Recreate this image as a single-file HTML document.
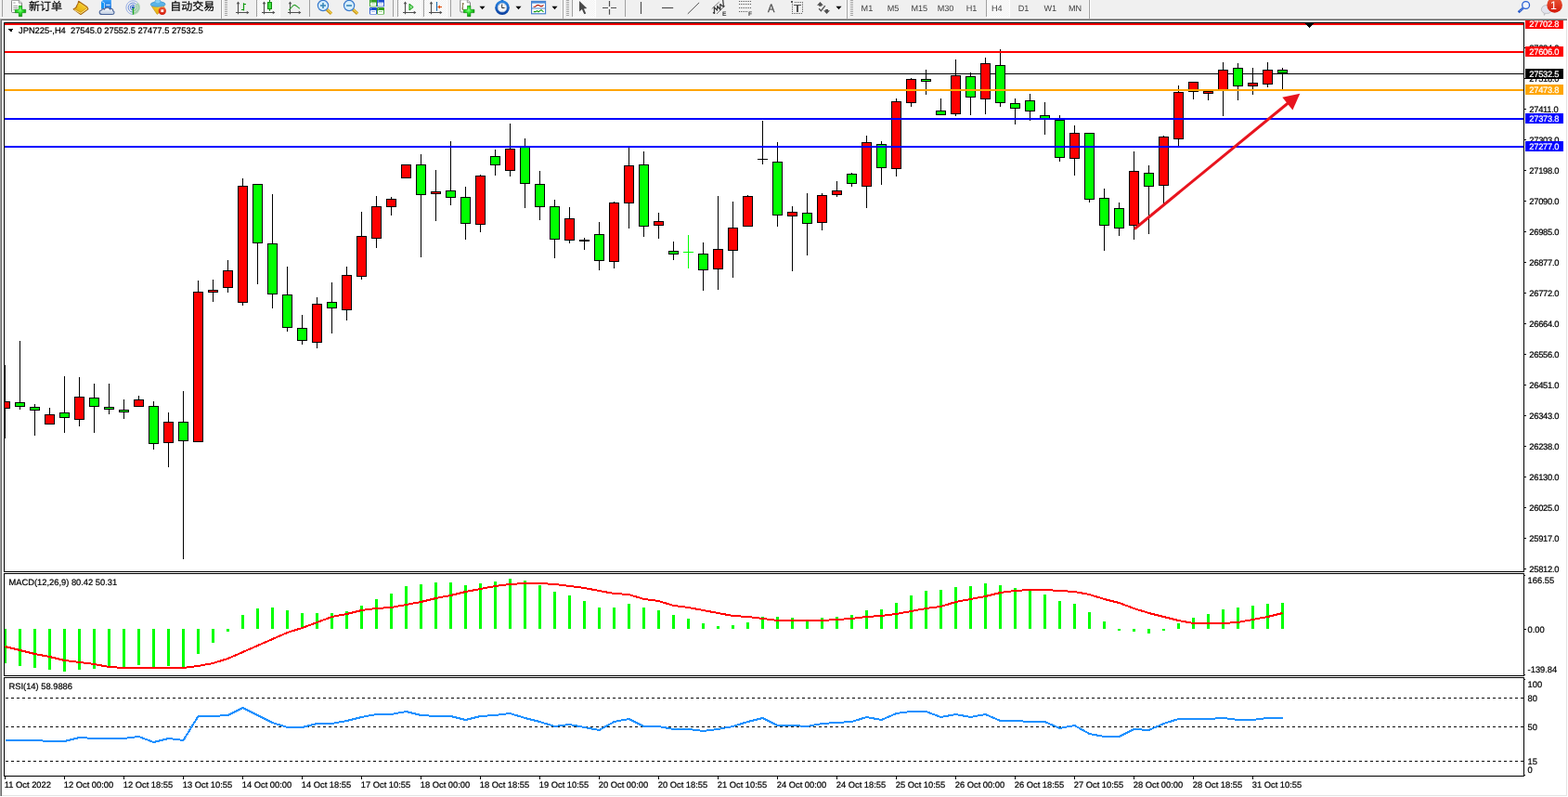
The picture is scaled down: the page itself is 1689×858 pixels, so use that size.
<!DOCTYPE html>
<html><head><meta charset="utf-8"><title>JPN225 H4</title>
<style>
html,body{margin:0;padding:0;background:#fff;overflow:hidden}
body{width:1689px;height:858px;font-family:"Liberation Sans",sans-serif}
svg{display:block;position:absolute;left:0;top:0;will-change:transform}
svg text{font-family:"Liberation Sans",sans-serif;white-space:pre}
</style></head><body>
<svg width="1689" height="858" viewBox="0 0 1689 858" shape-rendering="crispEdges" text-rendering="geometricPrecision">
<rect x="0" y="0" width="1689" height="858" fill="#ffffff"/>
<rect x="0" y="0" width="1689" height="20" fill="#f0f0f0"/>
<rect x="0" y="19" width="1689" height="1" fill="#f6f6f6"/>
<rect x="0" y="20" width="1688" height="1" fill="#a0a0a0"/>
<rect x="1" y="21" width="1687" height="1" fill="#696969"/>
<rect x="0" y="20" width="1" height="837" fill="#a0a0a0"/>
<rect x="1" y="21" width="1" height="836" fill="#696969"/>
<rect x="1687" y="22" width="1" height="835" fill="#e3e3e3"/>
<rect x="2" y="856" width="1686" height="1" fill="#e3e3e3"/>
<rect x="4" y="24" width="1638" height="1" fill="#000"/>
<rect x="4" y="615" width="1638" height="1" fill="#000"/>
<rect x="4" y="24" width="1" height="592" fill="#000"/>
<rect x="1641" y="24" width="1" height="592" fill="#000"/>
<rect x="4" y="617" width="1638" height="1" fill="#000"/>
<rect x="4" y="727" width="1638" height="1" fill="#000"/>
<rect x="4" y="617" width="1" height="111" fill="#000"/>
<rect x="1641" y="617" width="1" height="111" fill="#000"/>
<rect x="4" y="729" width="1638" height="1" fill="#000"/>
<rect x="4" y="835" width="1638" height="1" fill="#000"/>
<rect x="4" y="729" width="1" height="107" fill="#000"/>
<rect x="1641" y="729" width="1" height="107" fill="#000"/>
<rect x="5" y="79" width="1636" height="1" fill="#000000"/>
<g id="candles">
<rect x="5" y="393" width="1" height="79" fill="#000"/>
<rect x="5" y="432" width="6" height="8" fill="#000"/>
<rect x="5" y="433" width="5" height="6" fill="#ff0000"/>
<rect x="21" y="367" width="1" height="74" fill="#000"/>
<rect x="16" y="433" width="11" height="5" fill="#000"/>
<rect x="17" y="434" width="9" height="3" fill="#00ff00"/>
<rect x="37" y="435" width="1" height="34" fill="#000"/>
<rect x="32" y="438" width="11" height="4" fill="#000"/>
<rect x="33" y="439" width="9" height="2" fill="#00ff00"/>
<rect x="53" y="439" width="1" height="18" fill="#000"/>
<rect x="48" y="446" width="11" height="11" fill="#000"/>
<rect x="49" y="447" width="9" height="9" fill="#ff0000"/>
<rect x="69" y="405" width="1" height="61" fill="#000"/>
<rect x="64" y="444" width="11" height="6" fill="#000"/>
<rect x="65" y="445" width="9" height="4" fill="#00ff00"/>
<rect x="85" y="406" width="1" height="53" fill="#000"/>
<rect x="80" y="427" width="11" height="25" fill="#000"/>
<rect x="81" y="428" width="9" height="23" fill="#ff0000"/>
<rect x="101" y="413" width="1" height="53" fill="#000"/>
<rect x="96" y="428" width="11" height="10" fill="#000"/>
<rect x="97" y="429" width="9" height="8" fill="#00ff00"/>
<rect x="117" y="413" width="1" height="33" fill="#000"/>
<rect x="112" y="438" width="11" height="3" fill="#000"/>
<rect x="113" y="439" width="9" height="1" fill="#00ff00"/>
<rect x="133" y="430" width="1" height="21" fill="#000"/>
<rect x="128" y="441" width="11" height="3" fill="#000"/>
<rect x="129" y="442" width="9" height="1" fill="#00ff00"/>
<rect x="149" y="426" width="1" height="12" fill="#000"/>
<rect x="144" y="430" width="11" height="8" fill="#000"/>
<rect x="145" y="431" width="9" height="6" fill="#ff0000"/>
<rect x="165" y="432" width="1" height="52" fill="#000"/>
<rect x="160" y="437" width="11" height="41" fill="#000"/>
<rect x="161" y="438" width="9" height="39" fill="#00ff00"/>
<rect x="181" y="444" width="1" height="59" fill="#000"/>
<rect x="176" y="454" width="11" height="23" fill="#000"/>
<rect x="177" y="455" width="9" height="21" fill="#ff0000"/>
<rect x="197" y="421" width="1" height="181" fill="#000"/>
<rect x="192" y="454" width="11" height="21" fill="#000"/>
<rect x="193" y="455" width="9" height="19" fill="#00ff00"/>
<rect x="213" y="302" width="1" height="174" fill="#000"/>
<rect x="208" y="314" width="11" height="162" fill="#000"/>
<rect x="209" y="315" width="9" height="160" fill="#ff0000"/>
<rect x="229" y="301" width="1" height="24" fill="#000"/>
<rect x="224" y="312" width="11" height="3" fill="#000"/>
<rect x="225" y="313" width="9" height="1" fill="#ff0000"/>
<rect x="245" y="280" width="1" height="35" fill="#000"/>
<rect x="240" y="291" width="11" height="19" fill="#000"/>
<rect x="241" y="292" width="9" height="17" fill="#ff0000"/>
<rect x="261" y="192" width="1" height="137" fill="#000"/>
<rect x="256" y="200" width="11" height="126" fill="#000"/>
<rect x="257" y="201" width="9" height="124" fill="#ff0000"/>
<rect x="277" y="198" width="1" height="108" fill="#000"/>
<rect x="272" y="198" width="11" height="64" fill="#000"/>
<rect x="273" y="199" width="9" height="62" fill="#00ff00"/>
<rect x="293" y="209" width="1" height="123" fill="#000"/>
<rect x="288" y="262" width="11" height="55" fill="#000"/>
<rect x="289" y="263" width="9" height="53" fill="#00ff00"/>
<rect x="309" y="287" width="1" height="70" fill="#000"/>
<rect x="304" y="317" width="11" height="36" fill="#000"/>
<rect x="305" y="318" width="9" height="34" fill="#00ff00"/>
<rect x="325" y="339" width="1" height="32" fill="#000"/>
<rect x="320" y="353" width="11" height="14" fill="#000"/>
<rect x="321" y="354" width="9" height="12" fill="#00ff00"/>
<rect x="341" y="320" width="1" height="55" fill="#000"/>
<rect x="336" y="327" width="11" height="42" fill="#000"/>
<rect x="337" y="328" width="9" height="40" fill="#ff0000"/>
<rect x="357" y="304" width="1" height="55" fill="#000"/>
<rect x="352" y="325" width="11" height="7" fill="#000"/>
<rect x="353" y="326" width="9" height="5" fill="#00ff00"/>
<rect x="373" y="287" width="1" height="58" fill="#000"/>
<rect x="368" y="296" width="11" height="38" fill="#000"/>
<rect x="369" y="297" width="9" height="36" fill="#ff0000"/>
<rect x="389" y="228" width="1" height="73" fill="#000"/>
<rect x="384" y="254" width="11" height="44" fill="#000"/>
<rect x="385" y="255" width="9" height="42" fill="#ff0000"/>
<rect x="405" y="211" width="1" height="56" fill="#000"/>
<rect x="400" y="222" width="11" height="35" fill="#000"/>
<rect x="401" y="223" width="9" height="33" fill="#ff0000"/>
<rect x="421" y="212" width="1" height="20" fill="#000"/>
<rect x="416" y="214" width="11" height="9" fill="#000"/>
<rect x="417" y="215" width="9" height="7" fill="#ff0000"/>
<rect x="437" y="177" width="1" height="15" fill="#000"/>
<rect x="432" y="177" width="11" height="15" fill="#000"/>
<rect x="433" y="178" width="9" height="13" fill="#ff0000"/>
<rect x="453" y="166" width="1" height="111" fill="#000"/>
<rect x="448" y="177" width="11" height="33" fill="#000"/>
<rect x="449" y="178" width="9" height="31" fill="#00ff00"/>
<rect x="469" y="183" width="1" height="55" fill="#000"/>
<rect x="464" y="206" width="11" height="3" fill="#000"/>
<rect x="465" y="207" width="9" height="1" fill="#ff0000"/>
<rect x="485" y="152" width="1" height="69" fill="#000"/>
<rect x="480" y="205" width="11" height="8" fill="#000"/>
<rect x="481" y="206" width="9" height="6" fill="#00ff00"/>
<rect x="501" y="201" width="1" height="57" fill="#000"/>
<rect x="496" y="212" width="11" height="29" fill="#000"/>
<rect x="497" y="213" width="9" height="27" fill="#00ff00"/>
<rect x="517" y="188" width="1" height="62" fill="#000"/>
<rect x="512" y="189" width="11" height="53" fill="#000"/>
<rect x="513" y="190" width="9" height="51" fill="#ff0000"/>
<rect x="533" y="161" width="1" height="28" fill="#000"/>
<rect x="528" y="168" width="11" height="10" fill="#000"/>
<rect x="529" y="169" width="9" height="8" fill="#00ff00"/>
<rect x="549" y="133" width="1" height="57" fill="#000"/>
<rect x="544" y="160" width="11" height="24" fill="#000"/>
<rect x="545" y="161" width="9" height="22" fill="#ff0000"/>
<rect x="565" y="149" width="1" height="75" fill="#000"/>
<rect x="560" y="158" width="11" height="40" fill="#000"/>
<rect x="561" y="159" width="9" height="38" fill="#00ff00"/>
<rect x="581" y="184" width="1" height="53" fill="#000"/>
<rect x="576" y="198" width="11" height="25" fill="#000"/>
<rect x="577" y="199" width="9" height="23" fill="#00ff00"/>
<rect x="597" y="215" width="1" height="63" fill="#000"/>
<rect x="592" y="222" width="11" height="36" fill="#000"/>
<rect x="593" y="223" width="9" height="34" fill="#00ff00"/>
<rect x="613" y="223" width="1" height="39" fill="#000"/>
<rect x="608" y="235" width="11" height="24" fill="#000"/>
<rect x="609" y="236" width="9" height="22" fill="#ff0000"/>
<rect x="629" y="256" width="1" height="13" fill="#000"/>
<rect x="624" y="258" width="11" height="2" fill="#000"/>
<rect x="645" y="239" width="1" height="52" fill="#000"/>
<rect x="640" y="252" width="11" height="29" fill="#000"/>
<rect x="641" y="253" width="9" height="27" fill="#00ff00"/>
<rect x="661" y="217" width="1" height="72" fill="#000"/>
<rect x="656" y="218" width="11" height="64" fill="#000"/>
<rect x="657" y="219" width="9" height="62" fill="#ff0000"/>
<rect x="677" y="159" width="1" height="87" fill="#000"/>
<rect x="672" y="178" width="11" height="41" fill="#000"/>
<rect x="673" y="179" width="9" height="39" fill="#ff0000"/>
<rect x="693" y="163" width="1" height="92" fill="#000"/>
<rect x="688" y="177" width="11" height="67" fill="#000"/>
<rect x="689" y="178" width="9" height="65" fill="#00ff00"/>
<rect x="709" y="229" width="1" height="28" fill="#000"/>
<rect x="704" y="238" width="11" height="5" fill="#000"/>
<rect x="705" y="239" width="9" height="3" fill="#ff0000"/>
<rect x="725" y="260" width="1" height="20" fill="#000"/>
<rect x="720" y="270" width="11" height="4" fill="#000"/>
<rect x="721" y="271" width="9" height="2" fill="#00ff00"/>
<rect x="741" y="253" width="1" height="36" fill="#00ff00"/>
<rect x="736" y="271" width="11" height="1" fill="#00ff00"/>
<rect x="757" y="261" width="1" height="52" fill="#000"/>
<rect x="752" y="273" width="11" height="18" fill="#000"/>
<rect x="753" y="274" width="9" height="16" fill="#00ff00"/>
<rect x="773" y="211" width="1" height="101" fill="#000"/>
<rect x="768" y="268" width="11" height="22" fill="#000"/>
<rect x="769" y="269" width="9" height="20" fill="#ff0000"/>
<rect x="789" y="217" width="1" height="82" fill="#000"/>
<rect x="784" y="245" width="11" height="25" fill="#000"/>
<rect x="785" y="246" width="9" height="23" fill="#ff0000"/>
<rect x="805" y="210" width="1" height="34" fill="#000"/>
<rect x="800" y="211" width="11" height="33" fill="#000"/>
<rect x="801" y="212" width="9" height="31" fill="#ff0000"/>
<rect x="821" y="130" width="1" height="47" fill="#000"/>
<rect x="816" y="171" width="11" height="1" fill="#000"/>
<rect x="837" y="153" width="1" height="91" fill="#000"/>
<rect x="832" y="174" width="11" height="58" fill="#000"/>
<rect x="833" y="175" width="9" height="56" fill="#00ff00"/>
<rect x="853" y="222" width="1" height="70" fill="#000"/>
<rect x="848" y="228" width="11" height="5" fill="#000"/>
<rect x="849" y="229" width="9" height="3" fill="#ff0000"/>
<rect x="869" y="208" width="1" height="67" fill="#000"/>
<rect x="864" y="229" width="11" height="12" fill="#000"/>
<rect x="865" y="230" width="9" height="10" fill="#00ff00"/>
<rect x="885" y="208" width="1" height="40" fill="#000"/>
<rect x="880" y="210" width="11" height="30" fill="#000"/>
<rect x="881" y="211" width="9" height="28" fill="#ff0000"/>
<rect x="901" y="195" width="1" height="17" fill="#000"/>
<rect x="896" y="205" width="11" height="5" fill="#000"/>
<rect x="897" y="206" width="9" height="3" fill="#ff0000"/>
<rect x="917" y="186" width="1" height="15" fill="#000"/>
<rect x="912" y="187" width="11" height="11" fill="#000"/>
<rect x="913" y="188" width="9" height="9" fill="#00ff00"/>
<rect x="933" y="146" width="1" height="78" fill="#000"/>
<rect x="928" y="153" width="11" height="48" fill="#000"/>
<rect x="929" y="154" width="9" height="46" fill="#ff0000"/>
<rect x="949" y="152" width="1" height="47" fill="#000"/>
<rect x="944" y="155" width="11" height="26" fill="#000"/>
<rect x="945" y="156" width="9" height="24" fill="#00ff00"/>
<rect x="965" y="106" width="1" height="84" fill="#000"/>
<rect x="960" y="109" width="11" height="73" fill="#000"/>
<rect x="961" y="110" width="9" height="71" fill="#ff0000"/>
<rect x="981" y="84" width="1" height="31" fill="#000"/>
<rect x="976" y="85" width="11" height="26" fill="#000"/>
<rect x="977" y="86" width="9" height="24" fill="#ff0000"/>
<rect x="997" y="75" width="1" height="27" fill="#000"/>
<rect x="992" y="85" width="11" height="3" fill="#000"/>
<rect x="993" y="86" width="9" height="1" fill="#00ff00"/>
<rect x="1013" y="106" width="1" height="18" fill="#000"/>
<rect x="1008" y="119" width="11" height="5" fill="#000"/>
<rect x="1009" y="120" width="9" height="3" fill="#00ff00"/>
<rect x="1029" y="64" width="1" height="61" fill="#000"/>
<rect x="1024" y="81" width="11" height="42" fill="#000"/>
<rect x="1025" y="82" width="9" height="40" fill="#ff0000"/>
<rect x="1045" y="78" width="1" height="46" fill="#000"/>
<rect x="1040" y="82" width="11" height="23" fill="#000"/>
<rect x="1041" y="83" width="9" height="21" fill="#00ff00"/>
<rect x="1061" y="62" width="1" height="61" fill="#000"/>
<rect x="1056" y="68" width="11" height="39" fill="#000"/>
<rect x="1057" y="69" width="9" height="37" fill="#ff0000"/>
<rect x="1077" y="53" width="1" height="62" fill="#000"/>
<rect x="1072" y="70" width="11" height="41" fill="#000"/>
<rect x="1073" y="71" width="9" height="39" fill="#00ff00"/>
<rect x="1093" y="106" width="1" height="28" fill="#000"/>
<rect x="1088" y="111" width="11" height="6" fill="#000"/>
<rect x="1089" y="112" width="9" height="4" fill="#00ff00"/>
<rect x="1109" y="101" width="1" height="29" fill="#000"/>
<rect x="1104" y="108" width="11" height="12" fill="#000"/>
<rect x="1105" y="109" width="9" height="10" fill="#00ff00"/>
<rect x="1125" y="110" width="1" height="35" fill="#000"/>
<rect x="1120" y="124" width="11" height="4" fill="#000"/>
<rect x="1121" y="125" width="9" height="2" fill="#00ff00"/>
<rect x="1141" y="124" width="1" height="50" fill="#000"/>
<rect x="1136" y="129" width="11" height="41" fill="#000"/>
<rect x="1137" y="130" width="9" height="39" fill="#00ff00"/>
<rect x="1157" y="135" width="1" height="54" fill="#000"/>
<rect x="1152" y="143" width="11" height="28" fill="#000"/>
<rect x="1153" y="144" width="9" height="26" fill="#ff0000"/>
<rect x="1173" y="143" width="1" height="75" fill="#000"/>
<rect x="1168" y="143" width="11" height="72" fill="#000"/>
<rect x="1169" y="144" width="9" height="70" fill="#00ff00"/>
<rect x="1189" y="203" width="1" height="67" fill="#000"/>
<rect x="1184" y="213" width="11" height="30" fill="#000"/>
<rect x="1185" y="214" width="9" height="28" fill="#00ff00"/>
<rect x="1205" y="218" width="1" height="36" fill="#000"/>
<rect x="1200" y="224" width="11" height="22" fill="#000"/>
<rect x="1201" y="225" width="9" height="20" fill="#00ff00"/>
<rect x="1221" y="163" width="1" height="95" fill="#000"/>
<rect x="1216" y="184" width="11" height="59" fill="#000"/>
<rect x="1217" y="185" width="9" height="57" fill="#ff0000"/>
<rect x="1237" y="178" width="1" height="74" fill="#000"/>
<rect x="1232" y="186" width="11" height="15" fill="#000"/>
<rect x="1233" y="187" width="9" height="13" fill="#00ff00"/>
<rect x="1253" y="146" width="1" height="73" fill="#000"/>
<rect x="1248" y="147" width="11" height="53" fill="#000"/>
<rect x="1249" y="148" width="9" height="51" fill="#ff0000"/>
<rect x="1269" y="92" width="1" height="65" fill="#000"/>
<rect x="1264" y="99" width="11" height="51" fill="#000"/>
<rect x="1265" y="100" width="9" height="49" fill="#ff0000"/>
<rect x="1285" y="88" width="1" height="19" fill="#000"/>
<rect x="1280" y="88" width="11" height="11" fill="#000"/>
<rect x="1281" y="89" width="9" height="9" fill="#ff0000"/>
<rect x="1301" y="98" width="1" height="10" fill="#000"/>
<rect x="1296" y="98" width="11" height="3" fill="#000"/>
<rect x="1297" y="99" width="9" height="1" fill="#ff0000"/>
<rect x="1317" y="67" width="1" height="58" fill="#000"/>
<rect x="1312" y="75" width="11" height="23" fill="#000"/>
<rect x="1313" y="76" width="9" height="21" fill="#ff0000"/>
<rect x="1333" y="68" width="1" height="40" fill="#000"/>
<rect x="1328" y="73" width="11" height="20" fill="#000"/>
<rect x="1329" y="74" width="9" height="18" fill="#00ff00"/>
<rect x="1349" y="73" width="1" height="29" fill="#000"/>
<rect x="1344" y="89" width="11" height="4" fill="#000"/>
<rect x="1345" y="90" width="9" height="2" fill="#ff0000"/>
<rect x="1365" y="67" width="1" height="27" fill="#000"/>
<rect x="1360" y="75" width="11" height="16" fill="#000"/>
<rect x="1361" y="76" width="9" height="14" fill="#ff0000"/>
<rect x="1381" y="73" width="1" height="23" fill="#000"/>
<rect x="1376" y="75" width="11" height="4" fill="#000"/>
<rect x="1377" y="76" width="9" height="2" fill="#00ff00"/>
</g>
<rect x="5" y="25" width="1636" height="2" fill="#ff0000"/>
<rect x="5" y="55" width="1636" height="2" fill="#ff0000"/>
<rect x="5" y="96" width="1636" height="2" fill="#ffa500"/>
<rect x="5" y="127" width="1636" height="2" fill="#0000ff"/>
<rect x="5" y="157" width="1636" height="2" fill="#0000ff"/>
<g shape-rendering="geometricPrecision">
<line x1="1222" y1="246.5" x2="1388" y2="110.5" stroke="#e8141e" stroke-width="3"/>
<polygon points="1400.3,100.8 1381.3,104.8 1392.4,118.6" fill="#e8141e"/>
</g>
<g id="macd">
<rect x="5" y="677" width="2" height="37" fill="#00ff00"/>
<rect x="20" y="677" width="3" height="40" fill="#00ff00"/>
<rect x="36" y="677" width="3" height="42" fill="#00ff00"/>
<rect x="52" y="677" width="3" height="44" fill="#00ff00"/>
<rect x="68" y="677" width="3" height="46" fill="#00ff00"/>
<rect x="84" y="677" width="3" height="44" fill="#00ff00"/>
<rect x="100" y="677" width="3" height="43" fill="#00ff00"/>
<rect x="116" y="677" width="3" height="41" fill="#00ff00"/>
<rect x="132" y="677" width="3" height="41" fill="#00ff00"/>
<rect x="148" y="677" width="3" height="39" fill="#00ff00"/>
<rect x="164" y="677" width="3" height="41" fill="#00ff00"/>
<rect x="180" y="677" width="3" height="40" fill="#00ff00"/>
<rect x="196" y="677" width="3" height="41" fill="#00ff00"/>
<rect x="212" y="677" width="3" height="27" fill="#00ff00"/>
<rect x="228" y="677" width="3" height="15" fill="#00ff00"/>
<rect x="244" y="677" width="3" height="3" fill="#00ff00"/>
<rect x="260" y="662" width="3" height="15" fill="#00ff00"/>
<rect x="276" y="655" width="3" height="22" fill="#00ff00"/>
<rect x="292" y="654" width="3" height="23" fill="#00ff00"/>
<rect x="308" y="657" width="3" height="20" fill="#00ff00"/>
<rect x="324" y="660" width="3" height="17" fill="#00ff00"/>
<rect x="340" y="660" width="3" height="17" fill="#00ff00"/>
<rect x="356" y="660" width="3" height="17" fill="#00ff00"/>
<rect x="372" y="658" width="3" height="19" fill="#00ff00"/>
<rect x="388" y="652" width="3" height="25" fill="#00ff00"/>
<rect x="404" y="645" width="3" height="32" fill="#00ff00"/>
<rect x="420" y="639" width="3" height="38" fill="#00ff00"/>
<rect x="436" y="631" width="3" height="46" fill="#00ff00"/>
<rect x="452" y="629" width="3" height="48" fill="#00ff00"/>
<rect x="468" y="627" width="3" height="50" fill="#00ff00"/>
<rect x="484" y="627" width="3" height="50" fill="#00ff00"/>
<rect x="500" y="630" width="3" height="47" fill="#00ff00"/>
<rect x="516" y="628" width="3" height="49" fill="#00ff00"/>
<rect x="532" y="626" width="3" height="51" fill="#00ff00"/>
<rect x="548" y="623" width="3" height="54" fill="#00ff00"/>
<rect x="564" y="625" width="3" height="52" fill="#00ff00"/>
<rect x="580" y="630" width="3" height="47" fill="#00ff00"/>
<rect x="596" y="637" width="3" height="40" fill="#00ff00"/>
<rect x="612" y="641" width="3" height="36" fill="#00ff00"/>
<rect x="628" y="647" width="3" height="30" fill="#00ff00"/>
<rect x="644" y="654" width="3" height="23" fill="#00ff00"/>
<rect x="660" y="654" width="3" height="23" fill="#00ff00"/>
<rect x="676" y="650" width="3" height="27" fill="#00ff00"/>
<rect x="692" y="654" width="3" height="23" fill="#00ff00"/>
<rect x="708" y="657" width="3" height="20" fill="#00ff00"/>
<rect x="724" y="662" width="3" height="15" fill="#00ff00"/>
<rect x="740" y="666" width="3" height="11" fill="#00ff00"/>
<rect x="756" y="671" width="3" height="6" fill="#00ff00"/>
<rect x="772" y="674" width="3" height="3" fill="#00ff00"/>
<rect x="788" y="673" width="3" height="4" fill="#00ff00"/>
<rect x="804" y="670" width="3" height="7" fill="#00ff00"/>
<rect x="820" y="664" width="3" height="13" fill="#00ff00"/>
<rect x="836" y="664" width="3" height="13" fill="#00ff00"/>
<rect x="852" y="665" width="3" height="12" fill="#00ff00"/>
<rect x="868" y="668" width="3" height="9" fill="#00ff00"/>
<rect x="884" y="665" width="3" height="12" fill="#00ff00"/>
<rect x="900" y="664" width="3" height="13" fill="#00ff00"/>
<rect x="916" y="662" width="3" height="15" fill="#00ff00"/>
<rect x="932" y="657" width="3" height="20" fill="#00ff00"/>
<rect x="948" y="656" width="3" height="21" fill="#00ff00"/>
<rect x="964" y="649" width="3" height="28" fill="#00ff00"/>
<rect x="980" y="641" width="3" height="36" fill="#00ff00"/>
<rect x="996" y="636" width="3" height="41" fill="#00ff00"/>
<rect x="1012" y="635" width="3" height="42" fill="#00ff00"/>
<rect x="1028" y="632" width="3" height="45" fill="#00ff00"/>
<rect x="1044" y="631" width="3" height="46" fill="#00ff00"/>
<rect x="1060" y="628" width="3" height="49" fill="#00ff00"/>
<rect x="1076" y="630" width="3" height="47" fill="#00ff00"/>
<rect x="1092" y="633" width="3" height="44" fill="#00ff00"/>
<rect x="1108" y="636" width="3" height="41" fill="#00ff00"/>
<rect x="1124" y="640" width="3" height="37" fill="#00ff00"/>
<rect x="1140" y="647" width="3" height="30" fill="#00ff00"/>
<rect x="1156" y="650" width="3" height="27" fill="#00ff00"/>
<rect x="1172" y="659" width="3" height="18" fill="#00ff00"/>
<rect x="1188" y="669" width="3" height="8" fill="#00ff00"/>
<rect x="1204" y="677" width="3" height="2" fill="#00ff00"/>
<rect x="1220" y="677" width="3" height="3" fill="#00ff00"/>
<rect x="1236" y="677" width="3" height="5" fill="#00ff00"/>
<rect x="1252" y="677" width="3" height="2" fill="#00ff00"/>
<rect x="1268" y="671" width="3" height="6" fill="#00ff00"/>
<rect x="1284" y="665" width="3" height="12" fill="#00ff00"/>
<rect x="1300" y="661" width="3" height="16" fill="#00ff00"/>
<rect x="1316" y="656" width="3" height="21" fill="#00ff00"/>
<rect x="1332" y="654" width="3" height="23" fill="#00ff00"/>
<rect x="1348" y="652" width="3" height="25" fill="#00ff00"/>
<rect x="1364" y="650" width="3" height="27" fill="#00ff00"/>
<rect x="1380" y="649" width="3" height="28" fill="#00ff00"/>
<polyline points="5.5,696 21.5,700 37.5,704 53.5,707 69.5,711 85.5,713 101.5,715 117.5,718 133.5,719 149.5,719 165.5,719 181.5,719 197.5,719 213.5,717 229.5,714 245.5,709 261.5,702 277.5,695 293.5,688 309.5,681 325.5,676 341.5,670 357.5,664 373.5,661 389.5,657 405.5,655 421.5,654 437.5,651 453.5,648 469.5,644 485.5,641 501.5,637 517.5,634 533.5,631 549.5,629 565.5,628 581.5,628 597.5,629 613.5,631 629.5,633 645.5,636 661.5,639 677.5,640 693.5,645 709.5,647 725.5,652 741.5,654 757.5,657 773.5,660 789.5,663 805.5,664 821.5,666 837.5,668 853.5,668 869.5,668 885.5,668 901.5,667 917.5,666 933.5,664 949.5,663 965.5,661 981.5,658 997.5,655 1013.5,653 1029.5,648 1045.5,645 1061.5,642 1077.5,638 1093.5,636 1109.5,635 1125.5,635 1141.5,636 1157.5,637 1173.5,640 1189.5,645 1205.5,649 1221.5,655 1237.5,660 1253.5,664 1269.5,668 1285.5,671 1301.5,671 1317.5,671 1333.5,670 1349.5,667 1365.5,664 1381.5,660" fill="none" stroke="#ff0000" stroke-width="2" stroke-linejoin="round"/>
</g>
<g id="rsi">
<line x1="6" y1="751.5" x2="1641" y2="751.5" stroke="#000" stroke-width="1" stroke-dasharray="3 3"/>
<line x1="6" y1="782.5" x2="1641" y2="782.5" stroke="#000" stroke-width="1" stroke-dasharray="3 3"/>
<line x1="6" y1="819.5" x2="1641" y2="819.5" stroke="#000" stroke-width="1" stroke-dasharray="3 3"/>
<polyline points="5.5,797 21.5,797 37.5,797 53.5,798 69.5,798 85.5,794 101.5,795 117.5,795 133.5,795 149.5,793 165.5,799 181.5,795 197.5,797 213.5,771 229.5,771 245.5,770 261.5,762 277.5,770 293.5,778 309.5,783 325.5,783 341.5,779 357.5,779 373.5,776 389.5,772 405.5,769 421.5,769 437.5,766 453.5,770 469.5,771 485.5,771 501.5,775 517.5,771 533.5,770 549.5,768 565.5,773 581.5,777 597.5,782 613.5,780 629.5,783 645.5,786 661.5,777 677.5,774 693.5,782 709.5,782 725.5,785 741.5,785 757.5,787 773.5,785 789.5,782 805.5,777 821.5,773 837.5,781 853.5,781 869.5,782 885.5,779 901.5,778 917.5,777 933.5,772 949.5,775 965.5,768 981.5,766 997.5,766 1013.5,772 1029.5,769 1045.5,772 1061.5,769 1077.5,776 1093.5,776 1109.5,777 1125.5,777 1141.5,784 1157.5,781 1173.5,790 1189.5,793 1205.5,793 1221.5,785 1237.5,786 1253.5,779 1269.5,774 1285.5,774 1301.5,774 1317.5,773 1333.5,775 1349.5,775 1365.5,773 1381.5,773" fill="none" stroke="#1e90ff" stroke-width="2" stroke-linejoin="round"/>
</g>
<g id="axis">
<rect x="1642" y="51" width="2" height="1" fill="#000"/>
<text x="1647.3" y="55" fill="#000" stroke="#000" stroke-width="0.22" font-size="9.33" letter-spacing="-0.27">27624.0</text>
<rect x="1642" y="84" width="2" height="1" fill="#000"/>
<text x="1647.3" y="88" fill="#000" stroke="#000" stroke-width="0.22" font-size="9.33" letter-spacing="-0.27">27518.0</text>
<rect x="1642" y="117" width="2" height="1" fill="#000"/>
<text x="1647.3" y="121" fill="#000" stroke="#000" stroke-width="0.22" font-size="9.33" letter-spacing="-0.27">27411.0</text>
<rect x="1642" y="150" width="2" height="1" fill="#000"/>
<text x="1647.3" y="154" fill="#000" stroke="#000" stroke-width="0.22" font-size="9.33" letter-spacing="-0.27">27303.0</text>
<rect x="1642" y="183" width="2" height="1" fill="#000"/>
<text x="1647.3" y="187" fill="#000" stroke="#000" stroke-width="0.22" font-size="9.33" letter-spacing="-0.27">27198.0</text>
<rect x="1642" y="216" width="2" height="1" fill="#000"/>
<text x="1647.3" y="220" fill="#000" stroke="#000" stroke-width="0.22" font-size="9.33" letter-spacing="-0.27">27090.0</text>
<rect x="1642" y="249" width="2" height="1" fill="#000"/>
<text x="1647.3" y="253" fill="#000" stroke="#000" stroke-width="0.22" font-size="9.33" letter-spacing="-0.27">26985.0</text>
<rect x="1642" y="282" width="2" height="1" fill="#000"/>
<text x="1647.3" y="286" fill="#000" stroke="#000" stroke-width="0.22" font-size="9.33" letter-spacing="-0.27">26877.0</text>
<rect x="1642" y="315" width="2" height="1" fill="#000"/>
<text x="1647.3" y="319" fill="#000" stroke="#000" stroke-width="0.22" font-size="9.33" letter-spacing="-0.27">26772.0</text>
<rect x="1642" y="348" width="2" height="1" fill="#000"/>
<text x="1647.3" y="352" fill="#000" stroke="#000" stroke-width="0.22" font-size="9.33" letter-spacing="-0.27">26664.0</text>
<rect x="1642" y="381" width="2" height="1" fill="#000"/>
<text x="1647.3" y="385" fill="#000" stroke="#000" stroke-width="0.22" font-size="9.33" letter-spacing="-0.27">26556.0</text>
<rect x="1642" y="414" width="2" height="1" fill="#000"/>
<text x="1647.3" y="418" fill="#000" stroke="#000" stroke-width="0.22" font-size="9.33" letter-spacing="-0.27">26451.0</text>
<rect x="1642" y="447" width="2" height="1" fill="#000"/>
<text x="1647.3" y="451" fill="#000" stroke="#000" stroke-width="0.22" font-size="9.33" letter-spacing="-0.27">26343.0</text>
<rect x="1642" y="480" width="2" height="1" fill="#000"/>
<text x="1647.3" y="484" fill="#000" stroke="#000" stroke-width="0.22" font-size="9.33" letter-spacing="-0.27">26238.0</text>
<rect x="1642" y="513" width="2" height="1" fill="#000"/>
<text x="1647.3" y="517" fill="#000" stroke="#000" stroke-width="0.22" font-size="9.33" letter-spacing="-0.27">26130.0</text>
<rect x="1642" y="546" width="2" height="1" fill="#000"/>
<text x="1647.3" y="550" fill="#000" stroke="#000" stroke-width="0.22" font-size="9.33" letter-spacing="-0.27">26025.0</text>
<rect x="1642" y="579" width="2" height="1" fill="#000"/>
<text x="1647.3" y="583" fill="#000" stroke="#000" stroke-width="0.22" font-size="9.33" letter-spacing="-0.27">25917.0</text>
<rect x="1642" y="612" width="2" height="1" fill="#000"/>
<text x="1647.3" y="616" fill="#000" stroke="#000" stroke-width="0.22" font-size="9.33" letter-spacing="-0.27">25812.0</text>
<rect x="1643" y="22" width="41" height="9" fill="#ff0000"/>
<text x="1647.3" y="29" fill="#fff" stroke="#fff" stroke-width="0.22" font-size="9.33" letter-spacing="-0.27">27702.8</text>
<rect x="1643" y="50" width="41" height="11" fill="#ff0000"/>
<text x="1647.3" y="59" fill="#fff" stroke="#fff" stroke-width="0.22" font-size="9.33" letter-spacing="-0.27">27606.0</text>
<rect x="1643" y="74" width="41" height="11" fill="#000000"/>
<text x="1647.3" y="83" fill="#fff" stroke="#fff" stroke-width="0.22" font-size="9.33" letter-spacing="-0.27">27532.5</text>
<rect x="1643" y="91" width="41" height="11" fill="#ffa500"/>
<text x="1647.3" y="100" fill="#fff" stroke="#fff" stroke-width="0.22" font-size="9.33" letter-spacing="-0.27">27473.8</text>
<rect x="1643" y="122" width="41" height="11" fill="#0000ff"/>
<text x="1647.3" y="131" fill="#fff" stroke="#fff" stroke-width="0.22" font-size="9.33" letter-spacing="-0.27">27373.8</text>
<rect x="1643" y="152" width="41" height="11" fill="#0000ff"/>
<text x="1647.3" y="161" fill="#fff" stroke="#fff" stroke-width="0.22" font-size="9.33" letter-spacing="-0.27">27277.0</text>
<rect x="1642" y="619" width="1" height="1" fill="#000"/>
<text x="1645.6" y="628" fill="#000" stroke="#000" stroke-width="0.22" font-size="9.33">166.55</text>
<rect x="1642" y="677" width="2" height="1" fill="#000"/>
<text x="1645.6" y="681" fill="#000" stroke="#000" stroke-width="0.22" font-size="9.33">0.00</text>
<rect x="1642" y="726" width="1" height="1" fill="#000"/>
<text x="1645.6" y="724" fill="#000" stroke="#000" stroke-width="0.22" font-size="9.33">-139.84</text>
<rect x="1642" y="731" width="1" height="1" fill="#000"/>
<text x="1645.6" y="740" fill="#000" stroke="#000" stroke-width="0.22" font-size="9.33">100</text>
<text x="1645.6" y="755" fill="#000" stroke="#000" stroke-width="0.22" font-size="9.33">80</text>
<text x="1645.6" y="786" fill="#000" stroke="#000" stroke-width="0.22" font-size="9.33">50</text>
<text x="1645.6" y="823" fill="#000" stroke="#000" stroke-width="0.22" font-size="9.33">15</text>
<text x="1645.6" y="832" fill="#000" stroke="#000" stroke-width="0.22" font-size="9.33">0</text>
<rect x="1642" y="834" width="1" height="1" fill="#000"/>
</g>
<g id="dates">
<rect x="5" y="836" width="1" height="3" fill="#000"/>
<text x="4.8" y="848" fill="#000" stroke="#000" stroke-width="0.22" font-size="9.33">11 Oct 2022</text>
<rect x="69" y="836" width="1" height="3" fill="#000"/>
<text x="68.8" y="848" fill="#000" stroke="#000" stroke-width="0.22" font-size="9.33">12 Oct 00:00</text>
<rect x="133" y="836" width="1" height="3" fill="#000"/>
<text x="132.8" y="848" fill="#000" stroke="#000" stroke-width="0.22" font-size="9.33">12 Oct 18:55</text>
<rect x="197" y="836" width="1" height="3" fill="#000"/>
<text x="196.8" y="848" fill="#000" stroke="#000" stroke-width="0.22" font-size="9.33">13 Oct 10:55</text>
<rect x="261" y="836" width="1" height="3" fill="#000"/>
<text x="260.8" y="848" fill="#000" stroke="#000" stroke-width="0.22" font-size="9.33">14 Oct 00:00</text>
<rect x="325" y="836" width="1" height="3" fill="#000"/>
<text x="324.8" y="848" fill="#000" stroke="#000" stroke-width="0.22" font-size="9.33">14 Oct 18:55</text>
<rect x="389" y="836" width="1" height="3" fill="#000"/>
<text x="388.8" y="848" fill="#000" stroke="#000" stroke-width="0.22" font-size="9.33">17 Oct 10:55</text>
<rect x="453" y="836" width="1" height="3" fill="#000"/>
<text x="452.8" y="848" fill="#000" stroke="#000" stroke-width="0.22" font-size="9.33">18 Oct 00:00</text>
<rect x="517" y="836" width="1" height="3" fill="#000"/>
<text x="516.8" y="848" fill="#000" stroke="#000" stroke-width="0.22" font-size="9.33">18 Oct 18:55</text>
<rect x="581" y="836" width="1" height="3" fill="#000"/>
<text x="580.8" y="848" fill="#000" stroke="#000" stroke-width="0.22" font-size="9.33">19 Oct 10:55</text>
<rect x="645" y="836" width="1" height="3" fill="#000"/>
<text x="644.8" y="848" fill="#000" stroke="#000" stroke-width="0.22" font-size="9.33">20 Oct 00:00</text>
<rect x="709" y="836" width="1" height="3" fill="#000"/>
<text x="708.8" y="848" fill="#000" stroke="#000" stroke-width="0.22" font-size="9.33">20 Oct 18:55</text>
<rect x="773" y="836" width="1" height="3" fill="#000"/>
<text x="772.8" y="848" fill="#000" stroke="#000" stroke-width="0.22" font-size="9.33">21 Oct 10:55</text>
<rect x="837" y="836" width="1" height="3" fill="#000"/>
<text x="836.8" y="848" fill="#000" stroke="#000" stroke-width="0.22" font-size="9.33">24 Oct 00:00</text>
<rect x="901" y="836" width="1" height="3" fill="#000"/>
<text x="900.8" y="848" fill="#000" stroke="#000" stroke-width="0.22" font-size="9.33">24 Oct 18:55</text>
<rect x="965" y="836" width="1" height="3" fill="#000"/>
<text x="964.8" y="848" fill="#000" stroke="#000" stroke-width="0.22" font-size="9.33">25 Oct 10:55</text>
<rect x="1029" y="836" width="1" height="3" fill="#000"/>
<text x="1028.8" y="848" fill="#000" stroke="#000" stroke-width="0.22" font-size="9.33">26 Oct 00:00</text>
<rect x="1093" y="836" width="1" height="3" fill="#000"/>
<text x="1092.8" y="848" fill="#000" stroke="#000" stroke-width="0.22" font-size="9.33">26 Oct 18:55</text>
<rect x="1157" y="836" width="1" height="3" fill="#000"/>
<text x="1156.8" y="848" fill="#000" stroke="#000" stroke-width="0.22" font-size="9.33">27 Oct 10:55</text>
<rect x="1221" y="836" width="1" height="3" fill="#000"/>
<text x="1220.8" y="848" fill="#000" stroke="#000" stroke-width="0.22" font-size="9.33">28 Oct 00:00</text>
<rect x="1285" y="836" width="1" height="3" fill="#000"/>
<text x="1284.8" y="848" fill="#000" stroke="#000" stroke-width="0.22" font-size="9.33">28 Oct 18:55</text>
<rect x="1349" y="836" width="1" height="3" fill="#000"/>
<text x="1348.8" y="848" fill="#000" stroke="#000" stroke-width="0.22" font-size="9.33">31 Oct 10:55</text>
</g>
<polygon points="8,30.5 15.2,30.5 11.6,34.6" fill="#000"/>
<text x="20" y="35.6" fill="#000" stroke="#000" stroke-width="0.22" font-size="9.33">JPN225-,H4&#160;&#160;27545.0 27552.5 27477.5 27532.5</text>
<text x="9.5" y="629.7" fill="#000" stroke="#000" stroke-width="0.22" font-size="9.33">MACD(12,26,9) 80.42 50.31</text>
<text x="9.5" y="741.8" fill="#000" stroke="#000" stroke-width="0.22" font-size="9.33">RSI(14) 58.9886</text>
<rect x="1406" y="25" width="9" height="1" fill="#000"/>
<rect x="1407" y="26" width="7" height="1" fill="#000"/>
<rect x="1408" y="27" width="5" height="1" fill="#000"/>
<rect x="1409" y="28" width="3" height="1" fill="#000"/>
<rect x="1410" y="29" width="1" height="1" fill="#000"/>
<defs><pattern id="chk" width="2" height="2" patternUnits="userSpaceOnUse"><rect width="2" height="2" fill="#f0f0f0"/><rect width="1" height="1" fill="#fff"/><rect x="1" y="1" width="1" height="1" fill="#fff"/></pattern><radialGradient id="gplus" cx="0.45" cy="0.4" r="0.6"><stop offset="0" stop-color="#8aff8a"/><stop offset="0.45" stop-color="#2ee02e"/><stop offset="1" stop-color="#089408"/></radialGradient><linearGradient id="gold" x1="0" y1="0" x2="1" y2="1"><stop offset="0" stop-color="#ffe04a"/><stop offset="1" stop-color="#d89a10"/></linearGradient><linearGradient id="blu" x1="0" y1="0" x2="0" y2="1"><stop offset="0" stop-color="#3aa8ff"/><stop offset="1" stop-color="#0a64d8"/></linearGradient><linearGradient id="redb" x1="0" y1="0" x2="0" y2="1"><stop offset="0" stop-color="#ea5a38"/><stop offset="1" stop-color="#d41a0c"/></linearGradient><linearGradient id="clk" x1="0" y1="0" x2="0" y2="1"><stop offset="0" stop-color="#2a8ae8"/><stop offset="1" stop-color="#0a3c9c"/></linearGradient><linearGradient id="gold2" x1="1" y1="0" x2="0.2" y2="1"><stop offset="0" stop-color="#fff2a8"/><stop offset="0.45" stop-color="#f2c420"/><stop offset="1" stop-color="#dca414"/></linearGradient><linearGradient id="cloud" x1="0" y1="0" x2="0" y2="1"><stop offset="0" stop-color="#ffffff"/><stop offset="1" stop-color="#bccadf"/></linearGradient></defs>
<rect x="2" y="0" width="1" height="18" fill="#a0a0a0"/>
<rect x="237" y="0" width="1" height="20" fill="#f8f8f8"/>
<rect x="238" y="0" width="1" height="20" fill="#a0a0a0"/>
<rect x="239" y="0" width="1" height="20" fill="#ffffff"/>
<rect x="242" y="0" width="3" height="1" fill="#a6a6a6"/>
<rect x="242" y="2" width="3" height="1" fill="#a6a6a6"/>
<rect x="242" y="4" width="3" height="1" fill="#a6a6a6"/>
<rect x="242" y="6" width="3" height="1" fill="#a6a6a6"/>
<rect x="242" y="8" width="3" height="1" fill="#a6a6a6"/>
<rect x="242" y="10" width="3" height="1" fill="#a6a6a6"/>
<rect x="242" y="12" width="3" height="1" fill="#a6a6a6"/>
<rect x="242" y="14" width="3" height="1" fill="#a6a6a6"/>
<rect x="242" y="16" width="3" height="1" fill="#a6a6a6"/>
<rect x="276" y="0" width="1" height="18" fill="#a0a0a0"/>
<rect x="333" y="0" width="1" height="18" fill="#a0a0a0"/>
<rect x="423" y="0" width="1" height="18" fill="#a0a0a0"/>
<rect x="485" y="0" width="1" height="18" fill="#a0a0a0"/>
<rect x="673" y="0" width="1" height="18" fill="#a0a0a0"/>
<rect x="605" y="0" width="1" height="20" fill="#f8f8f8"/>
<rect x="606" y="0" width="1" height="20" fill="#a0a0a0"/>
<rect x="607" y="0" width="1" height="20" fill="#ffffff"/>
<rect x="610" y="0" width="3" height="1" fill="#a6a6a6"/>
<rect x="610" y="2" width="3" height="1" fill="#a6a6a6"/>
<rect x="610" y="4" width="3" height="1" fill="#a6a6a6"/>
<rect x="610" y="6" width="3" height="1" fill="#a6a6a6"/>
<rect x="610" y="8" width="3" height="1" fill="#a6a6a6"/>
<rect x="610" y="10" width="3" height="1" fill="#a6a6a6"/>
<rect x="610" y="12" width="3" height="1" fill="#a6a6a6"/>
<rect x="610" y="14" width="3" height="1" fill="#a6a6a6"/>
<rect x="610" y="16" width="3" height="1" fill="#a6a6a6"/>
<rect x="911" y="0" width="1" height="20" fill="#f8f8f8"/>
<rect x="912" y="0" width="1" height="20" fill="#a0a0a0"/>
<rect x="913" y="0" width="1" height="20" fill="#ffffff"/>
<rect x="916" y="0" width="3" height="1" fill="#a6a6a6"/>
<rect x="916" y="2" width="3" height="1" fill="#a6a6a6"/>
<rect x="916" y="4" width="3" height="1" fill="#a6a6a6"/>
<rect x="916" y="6" width="3" height="1" fill="#a6a6a6"/>
<rect x="916" y="8" width="3" height="1" fill="#a6a6a6"/>
<rect x="916" y="10" width="3" height="1" fill="#a6a6a6"/>
<rect x="916" y="12" width="3" height="1" fill="#a6a6a6"/>
<rect x="916" y="14" width="3" height="1" fill="#a6a6a6"/>
<rect x="916" y="16" width="3" height="1" fill="#a6a6a6"/>
<rect x="1172" y="0" width="1" height="20" fill="#f8f8f8"/>
<rect x="1173" y="0" width="1" height="20" fill="#a0a0a0"/>
<rect x="1174" y="0" width="1" height="20" fill="#ffffff"/>
<rect x="276" y="0" width="1" height="18" fill="#a0a0a0"/>
<rect x="277" y="0" width="24" height="18" fill="url(#chk)"/>
<rect x="301" y="0" width="1" height="19" fill="#ffffff"/>
<rect x="276" y="18" width="26" height="1" fill="#ffffff"/>
<rect x="428" y="0" width="1" height="18" fill="#a0a0a0"/>
<rect x="429" y="0" width="24" height="18" fill="url(#chk)"/>
<rect x="453" y="0" width="1" height="19" fill="#ffffff"/>
<rect x="428" y="18" width="26" height="1" fill="#ffffff"/>
<rect x="456" y="0" width="1" height="18" fill="#a0a0a0"/>
<rect x="457" y="0" width="24" height="18" fill="url(#chk)"/>
<rect x="481" y="0" width="1" height="19" fill="#ffffff"/>
<rect x="456" y="18" width="26" height="1" fill="#ffffff"/>
<rect x="616" y="0" width="1" height="18" fill="#a0a0a0"/>
<rect x="617" y="0" width="24" height="18" fill="url(#chk)"/>
<rect x="641" y="0" width="1" height="19" fill="#ffffff"/>
<rect x="616" y="18" width="26" height="1" fill="#ffffff"/>
<rect x="1062" y="0" width="1" height="18" fill="#a0a0a0"/>
<rect x="1063" y="0" width="24" height="18" fill="url(#chk)"/>
<rect x="1087" y="0" width="1" height="19" fill="#ffffff"/>
<rect x="1062" y="18" width="26" height="1" fill="#ffffff"/>
<g shape-rendering="geometricPrecision">
<path d="M13.5,0.2 H20.3 L23.5,3.2 V12.5 Q23.5,13.5 22.5,13.5 H13.5 Q12.5,13.5 12.5,12.5 V1.2 Q12.5,0.2 13.5,0.2 Z" fill="#fff" stroke="#858585" stroke-width="1"/>
<path d="M20.3,0.2 V3.2 H23.5" fill="#e8e8e8" stroke="#858585" stroke-width="0.8"/>
<path d="M14.3,3 H16.6 M14.3,6.4 H19 M14.3,8.5 H19 M14.3,10.5 H16" stroke="#9a9a9a" stroke-width="1" fill="none"/>
<path d="M20.3,6.3 H23.7 V10.3 H27.7 V13.7 H23.7 V17.7 H20.3 V13.7 H16.3 V10.3 H20.3 Z" fill="url(#gplus)" stroke="#0a8a0a" stroke-width="0.6"/>
<text x="31" y="11.2" font-size="12" fill="#000" stroke="#000" stroke-width="0.19" style="font-family:'Liberation Sans','Noto Sans CJK SC',sans-serif">新订单</text>
<text x="183.2" y="11.2" font-size="12" fill="#000" stroke="#000" stroke-width="0.19" style="font-family:'Liberation Sans','Noto Sans CJK SC',sans-serif">自动交易</text>
<path d="M84.6,1.3 L93.8,7.5 L94.9,9.8 L87,15.5 L79.1,9.8 Q82.6,8.6 82.8,5.9 Q84.3,4 84.6,1.3 Z" fill="url(#gold2)" stroke="#a86810" stroke-width="1.1" stroke-linejoin="round"/>
<path d="M80.3,10.6 L87,14.3 L93.9,9.4" fill="none" stroke="#fbe38c" stroke-width="1"/>
<path d="M80.4,9.4 L87,13.1 L93.6,8" fill="none" stroke="#c88a14" stroke-width="0.5"/>
<path d="M109.2,1.4 L112.6,-1 H119.8 V9.5 H109.2 Z" fill="url(#blu)"/>
<path d="M109.2,1.4 L112.5,3.2 V9.5 H109.2 Z" fill="#1696f6"/>
<path d="M109.4,1.5 L112.5,3.2 V9.5" stroke="#e4f4ff" stroke-width="0.7" fill="none"/>
<path d="M114.2,5.3 H118.6" stroke="#eef8ff" stroke-width="1.1"/>
<path d="M114.2,7.3 H118.6" stroke="#7cc8ff" stroke-width="0.6"/>
<path d="M110,15.5 C106.2,15.5 106.4,10.8 109.6,11 C109.8,9.6 111.6,9.2 112.4,10.2 C113,7.6 117.6,7.4 118.4,10 C120.2,8.6 122.4,10 121.6,11.8 C123.8,12.2 123.4,15.5 120.8,15.5 Z" fill="url(#cloud)" stroke="#4a6498" stroke-width="1.1" stroke-linejoin="round"/>
<path d="M143.2,8.1 L143.2,15.7 A7.6,7.6 0 0 0 148.6,2.7 Z" fill="#4aa860" opacity="0.5"/>
<path d="M143.2,15.4 A7.3,7.3 0 1 1 148.31,2.8878" fill="none" stroke="#2f62d4" stroke-width="1" opacity="0.45"/>
<path d="M148.31,2.8878 A7.3,7.3 0 0 1 143.2,15.4" fill="none" stroke="#e8f4e8" stroke-width="0.9" opacity="0.45"/>
<path d="M143.2,13.1 A5,5 0 1 1 146.7,4.53" fill="none" stroke="#2f62d4" stroke-width="1" opacity="0.7"/>
<path d="M146.7,4.53 A5,5 0 0 1 143.2,13.1" fill="none" stroke="#e8f4e8" stroke-width="0.9" opacity="0.7"/>
<path d="M143.2,10.9 A2.8,2.8 0 1 1 145.16,6.1008" fill="none" stroke="#2f62d4" stroke-width="1" opacity="0.9"/>
<path d="M145.16,6.1008 A2.8,2.8 0 0 1 143.2,10.9" fill="none" stroke="#e8f4e8" stroke-width="0.9" opacity="0.9"/>
<circle cx="143.2" cy="8.1" r="1.6" fill="#2858d0"/>
<path d="M143.5,8.5 V15.7" stroke="#22aa22" stroke-width="1.4"/>
<path d="M163.2,6.6 L169.2,15.4 L177,9.4 L176.6,6 Z" fill="url(#gold2)" stroke="#c89a20" stroke-width="0.7"/>
<path d="M162.3,4.8 C162.3,2.6 166.2,2.8 167.2,1.6 C167.6,0 168.5,-1 170,-1 C171.5,-1 172.6,0 172.8,1.6 C174.5,2.4 178,2.6 178,4.6 C178,6.8 173.6,7.2 170,7.2 C166.4,7.2 162.3,7 162.3,4.8 Z" fill="#5ab4e8" stroke="#3a8cc8" stroke-width="0.7"/>
<ellipse cx="170" cy="1.6" rx="2.6" ry="1.8" fill="#8cd0f4"/>
<circle cx="174.8" cy="11.7" r="4.2" fill="url(#redb)"/>
<rect x="173.4" y="10.3" width="2.8" height="2.8" fill="#fff"/>
<path d="M256.5,2.8 V15.3 M254,13.5 H267.5" stroke="#505050" stroke-width="1.1" fill="none"/>
<path d="M256.5,1.6 L254.7,4.2 H258.3 Z M268.4,13.5 L265.8,11.7 V15.3 Z" fill="#505050"/>
<path d="M262.5,3.3 V11.6 M262.5,4.5 H265 M260,10.5 H262.5" stroke="#109a10" stroke-width="1.2" fill="none"/>
<path d="M284.5,2.8 V15.3 M282,13.5 H295.5" stroke="#505050" stroke-width="1.1" fill="none"/>
<path d="M284.5,1.6 L282.7,4.2 H286.3 Z M296.4,13.5 L293.8,11.7 V15.3 Z" fill="#505050"/>
<path d="M290.5,-1 V11.8" stroke="#0a8a0a" stroke-width="1.1"/>
<rect x="288.5" y="2.6" width="4" height="7" fill="#44e044" stroke="#0a8a0a" stroke-width="1"/>
<path d="M312.5,2.8 V15.3 M310,13.5 H323.5" stroke="#505050" stroke-width="1.1" fill="none"/>
<path d="M312.5,1.6 L310.7,4.2 H314.3 Z M324.4,13.5 L321.8,11.7 V15.3 Z" fill="#505050"/>
<path d="M311,10.8 C313.5,9.5 315,5.4 317.2,5.4 C319,5.4 320.5,8 322.8,9.2" stroke="#2aa02a" stroke-width="1.1" fill="none"/>
<path d="M352,10.3 L357,14.8" stroke="#c8961a" stroke-width="3.2" stroke-linecap="butt"/>
<path d="M352.3,10 L357.3,14.5" stroke="#f2d24a" stroke-width="1.2"/>
<circle cx="348" cy="6" r="5.6" fill="#d6eefc" stroke="#3a7acc" stroke-width="1.2"/>
<path d="M345,6 H351" stroke="#3a88b8" stroke-width="1.6"/>
<path d="M348,3 V9" stroke="#3a88b8" stroke-width="1.6"/>
<path d="M380.1,10.3 L385.1,14.8" stroke="#c8961a" stroke-width="3.2" stroke-linecap="butt"/>
<path d="M380.40000000000003,10 L385.40000000000003,14.5" stroke="#f2d24a" stroke-width="1.2"/>
<circle cx="376.1" cy="6" r="5.6" fill="#d6eefc" stroke="#3a7acc" stroke-width="1.2"/>
<path d="M373.1,6 H379.1" stroke="#3a88b8" stroke-width="1.6"/>
<rect x="398" y="-0.4" width="8" height="7.6" rx="0.8" fill="#34a020"/>
<rect x="398.9" y="2.6" width="6.2" height="4" fill="#fff"/>
<rect x="400" y="3.6" width="4" height="0.9" fill="#9ad88a"/>
<rect x="399.2" y="0.6" width="0.9" height="0.9" fill="#e8f0ff"/>
<rect x="406" y="-0.4" width="8" height="7.6" rx="0.8" fill="#1e50d0"/>
<rect x="406.9" y="2.6" width="6.2" height="4" fill="#fff"/>
<rect x="408" y="3.6" width="4" height="0.9" fill="#9ab4f0"/>
<rect x="407.2" y="0.6" width="0.9" height="0.9" fill="#e8f0ff"/>
<rect x="398" y="8" width="8" height="7.6" rx="0.8" fill="#1e50d0"/>
<rect x="398.9" y="11" width="6.2" height="4" fill="#fff"/>
<rect x="400" y="12" width="4" height="0.9" fill="#9ab4f0"/>
<rect x="399.2" y="9" width="0.9" height="0.9" fill="#e8f0ff"/>
<rect x="406" y="8" width="8" height="7.6" rx="0.8" fill="#34a020"/>
<rect x="406.9" y="11" width="6.2" height="4" fill="#fff"/>
<rect x="408" y="12" width="4" height="0.9" fill="#9ad88a"/>
<rect x="407.2" y="9" width="0.9" height="0.9" fill="#e8f0ff"/>
<path d="M436.5,2.8 V15.3 M434,13.5 H447.5" stroke="#505050" stroke-width="1.1" fill="none"/>
<path d="M436.5,1.6 L434.7,4.2 H438.3 Z M448.4,13.5 L445.8,11.7 V15.3 Z" fill="#505050"/>
<path d="M441,4.2 V11 L445.2,7.6 Z" fill="#8ee68e" stroke="#0a9a0a" stroke-width="1"/>
<path d="M464.5,2.8 V15.3 M462,13.5 H475.5" stroke="#505050" stroke-width="1.1" fill="none"/>
<path d="M464.5,1.6 L462.7,4.2 H466.3 Z M476.4,13.5 L473.8,11.7 V15.3 Z" fill="#505050"/>
<path d="M470.5,2 V11.8" stroke="#2070b0" stroke-width="1.2"/>
<path d="M472,7.5 H476" stroke="#e05010" stroke-width="1.1" fill="none"/>
<path d="M471.2,7.5 L474,5.4 V9.6 Z" fill="#e05010"/>
<path d="M496.8,-0.3 H503.3 L506.5,2.8 V12 Q506.5,13 505.5,13 H496.8 Q495.8,13 495.8,12 V0.7 Q495.8,-0.3 496.8,-0.3 Z" fill="#fff" stroke="#858585" stroke-width="1"/>
<path d="M503.3,-0.3 V2.8 H506.5" fill="#e8e8e8" stroke="#858585" stroke-width="0.8"/>
<path d="M498.5,3 V11 M498.5,4 H500 M497.3,9 H498.5" stroke="#7a6a3a" stroke-width="0.9" fill="none"/>
<path d="M503.5,6.3 H506.9 V10.3 H510.9 V13.7 H506.9 V17.7 H503.5 V13.7 H499.5 V10.3 H503.5 Z" fill="url(#gplus)" stroke="#0a8a0a" stroke-width="0.6"/>
<path d="M516.5,6.8 H522.5 L519.5,10.2 Z" fill="#000"/>
<path d="M555.5,6.8 H561.5 L558.5,10.2 Z" fill="#000"/>
<path d="M594.5,6.8 H600.5 L597.5,10.2 Z" fill="#000"/>
<path d="M900.5,6.8 H906.5 L903.5,10.2 Z" fill="#000"/>
<rect x="539.6" y="-1" width="2.8" height="2" fill="#1a62c4"/>
<circle cx="541" cy="8.2" r="7.8" fill="url(#clk)"/>
<circle cx="541" cy="8.2" r="4.9" fill="#fbfcfe" stroke="#9ab0d0" stroke-width="0.6"/>
<path d="M540.7,4.6 V8.5 H543.6" stroke="#222" stroke-width="0.95" fill="none"/>
<path d="M541,3.9 v0.8 M541,11.7 v0.8 M536.7,8.2 h0.8 M544.5,8.2 h0.8 M538,5.2 l0.5,0.5 M544,5.2 l-0.5,0.5 M538,11.2 l0.5,-0.5 M544,11.2 l-0.5,-0.5" stroke="#8898aa" stroke-width="0.7"/>
<rect x="572.6" y="1.4" width="15" height="13.4" fill="#fff" stroke="#3a78c8" stroke-width="1.1"/>
<rect x="572.6" y="1.4" width="15" height="2.2" fill="#4a8ad8"/>
<path d="M573,9 H587.4" stroke="#3a78c8" stroke-width="0.9"/>
<path d="M574.5,7.2 H576.5 L578.5,5.6 H580.5 L582,6.6 H584 L585.5,5.4" stroke="#b01808" stroke-width="1.1" fill="none"/>
<path d="M574.8,12.6 H577 L578.5,11.6 L580,12.8 L583,10.6 L585.5,12.8" stroke="#109a10" stroke-width="1.1" fill="none"/>
<path d="M624,1 V12.6 L626.9,10.1 L629.3,15.3 L631.2,14.4 L628.9,9.4 L632.3,9 Z" fill="#4a4a4a"/>
<path d="M656.5,1 V7 M656.5,10 V15.8 M649,8.5 H655 M658,8.5 H664" stroke="#505050" stroke-width="1.2" fill="none"/>
<path d="M690.5,2 V15" stroke="#505050" stroke-width="1.2"/>
<path d="M713,8.5 H725.2" stroke="#505050" stroke-width="1.2"/>
<path d="M740.8,14.9 L753.1,2.8" stroke="#505050" stroke-width="1"/>
<path d="M766.7,9.6 L774.7,2.1 M772,14.9 L781.1,6.1" stroke="#6a6a6a" stroke-width="0.9" fill="none"/>
<path d="M768,13.4 L769.6,14.4 L769.3,7.7 L772.5,11.2 L772.8,6.4 L776,10.5 L775.7,4.5 L779.5,7.4 L778.6,-1" stroke="#3c3c3c" stroke-width="1.25" fill="none" stroke-linejoin="round"/>
<text x="778" y="16.9" font-size="6.7" font-weight="bold" fill="#3c3c3c">E</text>
<g shape-rendering="crispEdges">
<rect x="796" y="1" width="1" height="1" fill="#555555"/>
<rect x="798" y="1" width="1" height="1" fill="#555555"/>
<rect x="800" y="1" width="1" height="1" fill="#555555"/>
<rect x="802" y="1" width="1" height="1" fill="#555555"/>
<rect x="804" y="1" width="1" height="1" fill="#555555"/>
<rect x="806" y="1" width="1" height="1" fill="#555555"/>
<rect x="808" y="1" width="1" height="1" fill="#555555"/>
<rect x="796" y="4" width="1" height="1" fill="#555555"/>
<rect x="798" y="4" width="1" height="1" fill="#555555"/>
<rect x="800" y="4" width="1" height="1" fill="#555555"/>
<rect x="802" y="4" width="1" height="1" fill="#555555"/>
<rect x="804" y="4" width="1" height="1" fill="#555555"/>
<rect x="806" y="4" width="1" height="1" fill="#555555"/>
<rect x="808" y="4" width="1" height="1" fill="#555555"/>
<rect x="796" y="8" width="1" height="1" fill="#555555"/>
<rect x="798" y="8" width="1" height="1" fill="#555555"/>
<rect x="800" y="8" width="1" height="1" fill="#555555"/>
<rect x="802" y="8" width="1" height="1" fill="#555555"/>
<rect x="804" y="8" width="1" height="1" fill="#555555"/>
<rect x="806" y="8" width="1" height="1" fill="#555555"/>
<rect x="808" y="8" width="1" height="1" fill="#555555"/>
<rect x="796" y="12" width="1" height="1" fill="#555555"/>
<rect x="798" y="12" width="1" height="1" fill="#555555"/>
<rect x="800" y="12" width="1" height="1" fill="#555555"/>
<rect x="802" y="12" width="1" height="1" fill="#555555"/>
<rect x="804" y="12" width="1" height="1" fill="#555555"/>
</g>
<text x="805.9" y="16.9" font-size="6.7" font-weight="bold" fill="#3c3c3c">F</text>
<text x="827" y="13.1" font-size="12.2" fill="#505050" stroke="#505050" stroke-width="0.3" textLength="7.4" lengthAdjust="spacingAndGlyphs">A</text>
<g shape-rendering="crispEdges">
<rect x="856" y="2" width="1" height="1" fill="#555555"/>
<rect x="858" y="2" width="1" height="1" fill="#555555"/>
<rect x="860" y="2" width="1" height="1" fill="#555555"/>
<rect x="862" y="2" width="1" height="1" fill="#555555"/>
<rect x="864" y="2" width="1" height="1" fill="#555555"/>
<rect x="852" y="1" width="2" height="2" fill="#555555"/>
<rect x="853" y="4" width="1" height="1" fill="#555555"/>
<rect x="853" y="6" width="1" height="1" fill="#555555"/>
<rect x="853" y="8" width="1" height="1" fill="#555555"/>
<rect x="853" y="10" width="1" height="1" fill="#555555"/>
<rect x="853" y="12" width="1" height="1" fill="#555555"/>
<rect x="853" y="14" width="1" height="1" fill="#555555"/>
<rect x="864" y="4" width="1" height="1" fill="#555555"/>
<rect x="864" y="6" width="1" height="1" fill="#555555"/>
<rect x="864" y="8" width="1" height="1" fill="#555555"/>
<rect x="864" y="10" width="1" height="1" fill="#555555"/>
<rect x="864" y="12" width="1" height="1" fill="#555555"/>
<rect x="855" y="14" width="1" height="1" fill="#555555"/>
<rect x="857" y="14" width="1" height="1" fill="#555555"/>
<rect x="859" y="14" width="1" height="1" fill="#555555"/>
<rect x="861" y="14" width="1" height="1" fill="#555555"/>
<rect x="863" y="14" width="1" height="1" fill="#555555"/>
<rect x="855" y="5" width="8" height="1" fill="#505050"/>
<rect x="858" y="5" width="2" height="8" fill="#505050"/>
</g>
<path d="M880,5.8 L883.45,2 L886.9,5.8 Z M882.1,5.7 H885 V6.8 H882.1 Z" fill="#505050"/>
<path d="M887.1,11.2 H894 L890.5,15 Z M889.2,10.1 H892 V11.3 H889.2 Z" fill="#505050"/>
<path d="M882.1,9.3 L884.4,11.7 L888.8,6.1" stroke="#505050" stroke-width="1.3" fill="none"/>
<text x="933.9" y="11.5" font-size="9.1" text-anchor="middle" fill="#404040">M1</text>
<text x="962" y="11.5" font-size="9.1" text-anchor="middle" fill="#404040">M5</text>
<text x="990.3" y="11.5" font-size="9.1" text-anchor="middle" fill="#404040">M15</text>
<text x="1018.5" y="11.5" font-size="9.1" text-anchor="middle" fill="#404040">M30</text>
<text x="1046.5" y="11.5" font-size="9.1" text-anchor="middle" fill="#404040">H1</text>
<text x="1073.8" y="11.5" font-size="9.1" text-anchor="middle" fill="#404040">H4</text>
<text x="1102.5" y="11.5" font-size="9.1" text-anchor="middle" fill="#404040">D1</text>
<text x="1131.2" y="11.5" font-size="9.1" text-anchor="middle" fill="#404040">W1</text>
<text x="1158" y="11.5" font-size="9.1" text-anchor="middle" fill="#404040">MN</text>
<path d="M1640.8,8.6 L1635.6,13.3" stroke="#2a5ccc" stroke-width="2.7" stroke-linecap="butt"/>
<path d="M1639.6,8.2 l1.3,1.4 M1638.2,9.4 l1.3,1.4 M1636.8,10.7 l1.3,1.4" stroke="#dfe8ff" stroke-width="0.5"/>
<circle cx="1643.6" cy="5.5" r="3.9" fill="#f4f6fa" stroke="#2a60d4" stroke-width="1.3"/>
<path d="M1660.4,10.4 C1660.4,7.2 1663,5.6 1666,5.6 C1669.4,5.6 1671.6,7.4 1671.6,10.2 C1671.6,12.8 1669.4,14.4 1666.4,14.4 C1665.6,14.4 1665,14.4 1664.6,14.2 L1663.4,16.4 L1663.2,13.8 C1661.6,13.2 1660.4,12.2 1660.4,10.4 Z" fill="#e2e4ee" stroke="#b4b4b8" stroke-width="0.8"/>
<circle cx="1674.6" cy="5.4" r="8.3" fill="url(#redb)"/>
<text x="1673.4" y="9.9" font-size="12.4" text-anchor="middle" fill="#fff">1</text>
</g>
</svg>
</body></html>
